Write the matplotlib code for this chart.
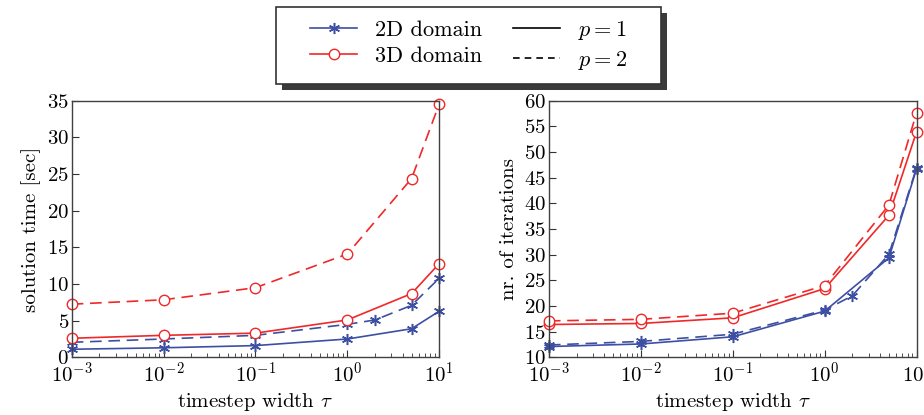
import numpy as np
import matplotlib
matplotlib.use("Agg")
import matplotlib.pyplot as plt
from matplotlib.lines import Line2D
from matplotlib.patches import Rectangle

plt.rcParams['font.family'] = 'serif'
plt.rcParams['font.serif'] = ['cmr10', 'DejaVu Serif']
plt.rcParams['mathtext.fontset'] = 'cm'
plt.rcParams['axes.formatter.use_mathtext'] = True

# timestep widths
tau = [1e-3, 1e-2, 1e-1, 1, 5, 10]
tau_2d_p2 = [1e-3, 1e-2, 1e-1, 1, 2, 5, 10]

# solution time [sec]
time_2d_p1 = [1.1, 1.3, 1.6, 2.5, 3.9, 6.3]
time_2d_p2 = [2.05, 2.5, 3.0, 4.5, 5.1, 7.1, 10.8]
time_3d_p1 = [2.6, 3.0, 3.3, 5.1, 8.7, 12.8]
time_3d_p2 = [7.25, 7.85, 9.5, 14.1, 24.4, 34.6]

# number of iterations
it_2d_p1 = [12.1, 12.6, 14.0, 19.0, 29.4, 46.8]
it_2d_p2 = [12.4, 13.1, 14.5, 19.2, 22.0, 30.1, 47.0]
it_3d_p1 = [16.4, 16.6, 17.7, 23.4, 37.7, 54.0]
it_3d_p2 = [17.1, 17.4, 18.6, 24.0, 39.7, 57.7]

blue = '#3d4fa3'
red = '#f02828'
dash = (0, (7, 4))
lw = 1.2

fig = plt.figure(figsize=(9.24, 4.15), dpi=100)
ax1 = fig.add_axes([0.0776, 0.139, 0.3978, 0.618])
ax2 = fig.add_axes([0.594, 0.139, 0.398, 0.618])

star = dict(marker=(6, 2, 0), markersize=8, markeredgewidth=1.1, color=blue, lw=lw)
circ = dict(marker='o', markersize=7.5, markerfacecolor='white', markeredgewidth=1.0, color=red, lw=lw)


def draw(ax, y2p1, y2p2, y3p1, y3p2):
    ax.plot(tau, y2p1, linestyle='-', **star)
    ax.plot(tau_2d_p2, y2p2, linestyle=dash, **star)
    ax.plot(tau, y3p1, linestyle='-', **circ)
    ax.plot(tau, y3p2, linestyle=dash, **circ)
    ax.set_xscale('log')
    ax.set_xlim(1e-3, 10)
    ax.set_xticks([1e-3, 1e-2, 1e-1, 1, 10])
    ax.tick_params(which='both', direction='in', top=False, right=False,
                   labelsize=15, colors='#333333', labelcolor='black')
    ax.tick_params(which='major', length=5, pad=2)
    ax.tick_params(which='minor', length=3)
    ax.tick_params(axis='x', pad=3)
    for s in ax.spines.values():
        s.set_color('#404040')
        s.set_linewidth(1.0)
    ax.set_xlabel(r'timestep width $\tau$', fontsize=15, labelpad=4)
    for c in ax.lines:
        c.set_clip_on(False)


draw(ax1, time_2d_p1, time_2d_p2, time_3d_p1, time_3d_p2)
ax1.set_ylim(0, 35)
ax1.set_yticks(np.arange(0, 36, 5))
ax1.set_ylabel('solution time [sec]', fontsize=15, labelpad=4)

draw(ax2, it_2d_p1, it_2d_p2, it_3d_p1, it_3d_p2)
ax2.set_ylim(10, 60)
ax2.set_yticks(np.arange(10, 61, 5))
ax2.set_ylabel('nr. of iterations', fontsize=15, labelpad=4)

handles = [
    Line2D([], [], linestyle='-', **star),
    Line2D([], [], linestyle='-', **circ),
    Line2D([], [], color='black', lw=lw, linestyle='-'),
    Line2D([], [], color='black', lw=lw, linestyle=(0, (4, 3))),
]
labels = ['2D domain', '3D domain', r'$p = 1$', r'$p = 2$']
leg = fig.legend(handles, labels, ncol=2, loc='upper center',
                 bbox_to_anchor=(0.507, 0.984), fontsize=16, frameon=False,
                 handlelength=2.1, columnspacing=1.4, labelspacing=0.3,
                 borderpad=0.55, handletextpad=0.8, borderaxespad=0.0)
leg.set_zorder(6)

# wide legend frame with a dark drop shadow
fig.canvas.draw()
bb = leg.get_window_extent()
padx = 22
off = 6
shadow = Rectangle((bb.x0 - padx + off, bb.y0 - off), bb.width + 2 * padx, bb.height,
                   transform=None, facecolor='#3a3a3a', edgecolor='none', zorder=4)
frame = Rectangle((bb.x0 - padx, bb.y0), bb.width + 2 * padx, bb.height,
                  transform=None, facecolor='white', edgecolor='#333333',
                  linewidth=1.2, zorder=5)
fig.patches.extend([shadow, frame])

fig.savefig('out.png', dpi=100)
